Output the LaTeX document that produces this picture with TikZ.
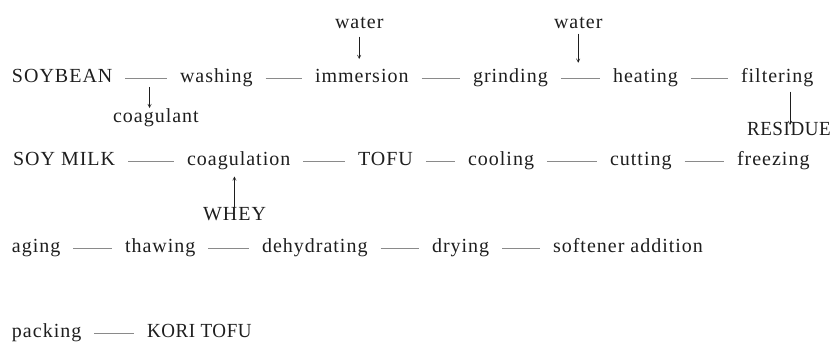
\documentclass[tikz,border=0pt]{standalone}
\usepackage{fontspec}
\setmainfont{Liberation Serif}[LetterSpace=5]
\newfontfamily\capsfont{Liberation Serif}[FakeStretch=0.95,LetterSpace=3]
\usetikzlibrary{arrows.meta,calc}
\definecolor{ink}{HTML}{1E1E1E}
\definecolor{rule}{HTML}{8A8A8A}
\tikzset{
  proc/.style={anchor=base west, inner sep=0pt, outer sep=0pt,
    font=\fontsize{20}{24}\selectfont, text=ink,
    text height=0.7em, text depth=0.05em},
  capsproc/.style={proc, font=\fontsize{20}{24}\capsfont},
  link/.style={draw=rule, line width=0.6pt, shorten <=13pt, shorten >=13pt},
  feed/.style={draw=ink, line width=0.5pt,
    -{Straight Barb[length=3.5pt,width=3.5pt]}},
}
\begin{document}
\begin{tikzpicture}[x=1pt,y=-1pt]
\useasboundingbox (0,0) rectangle (833,351);

% row 1
\node[proc] (soy)  at (12,82)  {SOYBEAN};
\node[proc] (wash) at (180,82) {washing};
\node[proc] (imm)  at (315,82) {immersion};
\node[proc] (grd)  at (473,82) {grinding};
\node[proc] (heat) at (613,82) {heating};
\node[proc] (filt) at (741,82) {filtering};
\node[proc] (wa1)  at (335,28) {water};
\node[proc] (wa2)  at (554,28) {water};
\node[proc] (coag) at (113,122) {coagulant};
\node[capsproc] (res) at (747,135) {RESIDUE};

% row 2
\node[proc] (milk) at (13,165)  {SOY MILK};
\node[proc] (cgl)  at (187,165) {coagulation};
\node[proc] (tofu) at (358,165) {TOFU};
\node[proc] (cool) at (468,165) {cooling};
\node[proc] (cut)  at (610,165) {cutting};
\node[proc] (frz)  at (737,165) {freezing};
\node[proc] (whey) at (203,220) {WHEY};

% row 3
\node[proc] (age)  at (12,252)  {aging};
\node[proc] (thaw) at (125,252) {thawing};
\node[proc] (dehy) at (262,252) {dehydrating};
\node[proc] (dry)  at (432,252) {drying};
\node[proc] (soft) at (553,252) {softener addition};

% row 4
\node[proc] (pack) at (12,337)  {packing};
\node[capsproc] (kori) at (147,337) {KORI TOFU};

% process links
\foreach \a/\b in {soy/wash,wash/imm,imm/grd,grd/heat,heat/filt,
                   milk/cgl,cgl/tofu,tofu/cool,cool/cut,cut/frz,
                   age/thaw,thaw/dehy,dehy/dry,dry/soft,pack/kori}
  \draw[link] (\a) -- (\b);

% additions and by-products
\coordinate (sw) at ($(soy.east)!0.55!(wash.west)$);
\coordinate (gh) at ($(grd.east)!0.45!(heat.west)$);
\coordinate (rx) at (790,0);
\draw[feed, shorten <=8pt, shorten >=16pt] (wa1.south) -- (wa1.south |- imm.north);
\draw[feed, shorten <=5pt, shorten >=16pt] (wa2.south) -- (wa2.south |- gh);
\draw[feed, shorten <=8pt, shorten >=7pt] (sw) -- (sw |- coag.north);
\draw[feed, shorten <=9pt, shorten >=3pt] (filt.south -| rx) -- (res.north -| rx);
\draw[feed, shorten <=6pt, shorten >=11pt] (whey.north) -- (whey.north |- cgl.south);
\end{tikzpicture}
\end{document}
